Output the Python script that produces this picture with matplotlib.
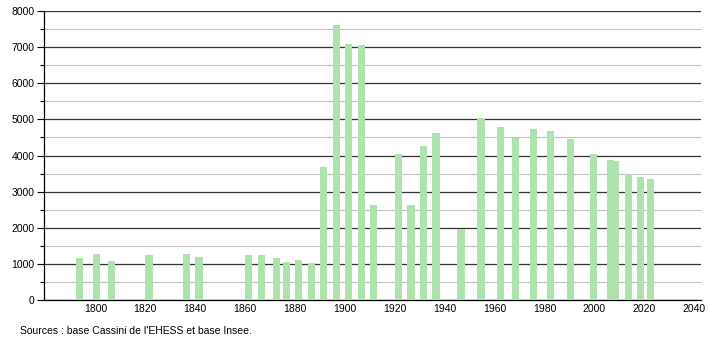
import matplotlib.pyplot as plt
from matplotlib.ticker import MultipleLocator

plt.rcParams['font.family'] = ['Liberation Sans', 'DejaVu Sans']

# census years and population
years = [1793, 1800, 1806, 1821, 1836, 1841, 1861, 1866, 1872, 1876, 1881, 1886,
         1891, 1896, 1901, 1906, 1911, 1921, 1926, 1931, 1936, 1946, 1954, 1962,
         1968, 1975, 1982, 1990, 1999, 2006, 2008, 2013, 2018, 2022]
pop = [1170, 1272, 1078, 1244, 1272, 1198, 1244, 1244, 1170, 1051, 1106, 1023,
       3677, 7604, 7088, 7060, 2627, 4037, 2627, 4258, 4618, 1972, 5032, 4783,
       4498, 4728, 4673, 4452, 4037, 3889, 3843, 3484, 3410, 3346]
xticks = list(range(1800, 2041, 20))
source = "Sources : base Cassini de l'EHESS et base Insee."

fig = plt.figure(figsize=(7.1, 3.4), dpi=100)
ax = fig.add_axes([44 / 710, 40 / 340, 657 / 710, 289 / 340])

ax.bar([y + 0.5 for y in years], pop, width=2.9, color='#b0e2b0', zorder=3)

ax.set_xlim(1779.4, 2042.7)
ax.set_ylim(0, 8000)
ax.set_xticks(xticks)
ax.yaxis.set_major_locator(MultipleLocator(1000))
ax.yaxis.set_minor_locator(MultipleLocator(500))
ax.grid(axis='y', which='major', color='#333333', linewidth=0.9, zorder=1)
ax.grid(axis='y', which='minor', color='#c0c0c0', linewidth=0.8, zorder=1)

for s in ['top', 'right']:
    ax.spines[s].set_visible(False)
ax.spines['left'].set_color('#000000')
ax.spines['bottom'].set_color('#000000')
ax.spines['left'].set_linewidth(0.9)
ax.spines['bottom'].set_linewidth(0.9)

ax.tick_params(axis='y', which='major', length=5, width=0.8, labelsize=7.5, pad=2)
ax.tick_params(axis='y', which='minor', length=3, width=0.8)
ax.tick_params(axis='x', length=0, labelsize=7.5, pad=3)

fig.text(0.028, 0.012, source, fontsize=7.5, ha='left', va='bottom')

fig.savefig('out.png', dpi=100)
